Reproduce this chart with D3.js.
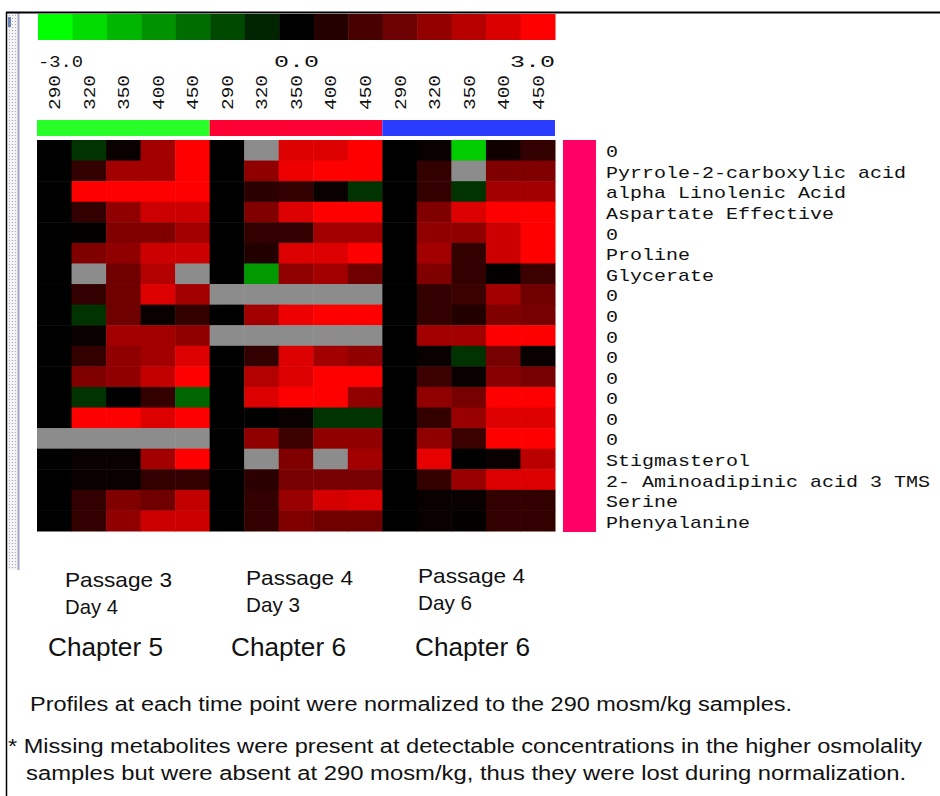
<!DOCTYPE html>
<html>
<head>
<meta charset="utf-8">
<title>Metabolite heat map</title>
<script src="https://d3js.org/d3.v7.min.js"></script>
<style>
  body { margin: 0; background: white; }
  .mono { font-family: "Liberation Mono", "DejaVu Sans Mono", monospace; fill: #111; }
  .sans { font-family: "Liberation Sans", Arial, sans-serif; fill: #111; }
</style>
</head>
<body>
<script>
// ---- data ----
var rowLabels = ["0", "Pyrrole-2-carboxylic acid", "alpha Linolenic Acid", "Aspartate Effective",
  "0", "Proline", "Glycerate", "0", "0", "0", "0", "0", "0", "0", "0",
  "Stigmasterol", "2- Aminoadipinic acid 3 TMS", "Serine", "Phenyalanine"];
var osmLabels = ["290", "320", "350", "400", "450"];
var groupNames = ["P3D4", "P4D3", "P4D6"];
var groupColors = ["#28ff28", "#ff0033", "#2a3cff"];
var scaleTicks = [-3, 0, 3];

// log ratio vs 290 mosm/kg, null = missing (grey)
var passage3day4 = [
  [0, -0.6, 0.1, 1.9, 3], [0, 0.6, 1.9, 1.9, 3], [0, 3, 3, 3, 3], [0, 0.6, 1.7, 2.4, 2.4],
  [0, 0.05, 1.5, 1.5, 1.9], [0, 1.5, 1.7, 2.4, 2.4], [0, null, 1.3, 2.1, null], [0, 0.6, 1.3, 2.6, 1.9],
  [0, -0.6, 1.3, 0.1, 0.6], [0, 0.1, 1.9, 1.9, 1.7], [0, 0.6, 1.7, 1.9, 2.6], [0, 1.5, 1.7, 2.3, 3],
  [0, -0.6, 0, 0.6, -1.2], [0, 3, 3, 2.6, 3], [null, null, null, null, null], [0, 0.1, 0.1, 1.9, 3],
  [0, 0.1, 0.1, 0.6, 0.6], [0, 0.6, 1.5, 1.3, 2.3], [0, 0.6, 1.7, 2.4, 2.4]
];
var passage4day3 = [
  [0, null, 2.6, 2.6, 3], [0, 1.7, 2.8, 3, 3], [0, 0.5, 0.6, 0.1, -0.6], [0, 1.5, 2.6, 3, 3],
  [0, 0.6, 0.6, 1.9, 1.9], [0, 0.4, 2.6, 2.6, 3], [0, -1.8, 1.7, 1.9, 1.3], [null, null, null, null, null],
  [0, 1.9, 2.8, 3, 3], [null, null, null, null, null], [0, 0.6, 2.6, 1.9, 1.7], [0, 2.1, 2.6, 3, 3],
  [0, 2.6, 3, 3, 1.7], [0, 0, 0.1, -0.6, -0.6], [0, 1.7, 0.7, 1.7, 1.7], [0, null, 1.5, null, 1.9],
  [0, 0.5, 1.4, 1.4, 1.4], [0, 0.6, 1.8, 2.5, 2.6], [0, 0.6, 1.5, 1.3, 1.3]
];
var passage4day6 = [
  [0, 0.1, -2.4, 0.2, 0.6], [0, 0.6, null, 1.5, 1.5], [0, 0.6, -0.6, 1.9, 1.9], [0, 1.5, 2.6, 3, 3],
  [0, 1.7, 1.7, 2.4, 3], [0, 1.9, 0.6, 2.4, 3], [0, 1.5, 0.6, 0.05, 0.7], [0, 0.6, 0.7, 1.9, 1.3],
  [0, 0.6, 0.4, 1.5, 1.4], [0, 1.9, 1.9, 3, 3], [0, 0.1, -0.6, 1.4, 0.1], [0, 0.7, 0.1, 1.6, 1.4],
  [0, 1.7, 1.4, 3, 3], [0, 0.6, 1.8, 2.6, 2.6], [0, 1.7, 0.7, 3, 3], [0, 2.7, 0, 0.1, 2.2],
  [0, 0.6, 1.8, 2.6, 2.6], [0, 0.1, 0.1, 0.6, 0.6], [0, 0.1, 0.05, 0.6, 0.6]
];
var groupValues = [passage3day4, passage4day3, passage4day6];

var captions = [["Passage 3", "Day 4", "Chapter 5"], ["Passage 4", "Day 3", "Chapter 6"], ["Passage 4", "Day 6", "Chapter 6"]];
var notes = ["Profiles at each time point were normalized to the 290 mosm/kg samples.",
  "* Missing metabolites were present at detectable concentrations in the higher osmolality",
  "samples but were absent at 290 mosm/kg, thus they were lost during normalization."];

// ---- layout ----
var width = 940, height = 796;
var svg = d3.select("body").append("svg").attr("width", width).attr("height", height);

// flatten to cells
var cells = [];
groupValues.forEach(function(g, gi) {
  g.forEach(function(row, ri) {
    row.forEach(function(v, ci) {
      cells.push({ col: gi * 5 + ci, row: ri, value: v });
    });
  });
});

var colIdx = d3.range(groupNames.length * osmLabels.length);
var x = d3.scaleBand().domain(colIdx).range([37, 555]);
var y = d3.scaleBand().domain(d3.range(rowLabels.length)).range([140, 531]);
var color = d3.scaleLinear().domain([-3, 0, 3]).range(["#00ff00", "#000000", "#ff0000"]).clamp(true);
var missing = "#8c8c8c";

// frame bits (screen-capture border)
var defs = svg.append("defs");
var pat = defs.append("pattern").attr("id", "dots").attr("width", 3).attr("height", 3)
  .attr("patternUnits", "userSpaceOnUse");
pat.append("rect").attr("width", 3).attr("height", 3).attr("fill", "#f4f4f4");
pat.append("rect").attr("width", 1).attr("height", 1).attr("fill", "#a8a8b8");
svg.append("rect").attr("x", 8).attr("y", 13).attr("width", 10).attr("height", 557).attr("fill", "url(#dots)");
svg.append("line").attr("x1", 18.5).attr("x2", 18.5).attr("y1", 13).attr("y2", 570)
  .attr("stroke", "#a3a6c4").attr("stroke-width", 2);
svg.append("rect").attr("x", 8).attr("y", 17).attr("width", 3).attr("height", 10).attr("fill", "#6d80b8");
svg.append("line").attr("x1", 6).attr("x2", width).attr("y1", 12.5).attr("y2", 12.5)
  .attr("stroke", "#000").attr("stroke-width", 2);
svg.append("line").attr("x1", 6.5).attr("x2", 6.5).attr("y1", 12).attr("y2", height)
  .attr("stroke", "#000").attr("stroke-width", 1.5);

// colour scale bar
var barX = d3.scaleLinear().domain([-3, 3]).range([38, 555]);
var steps = d3.range(15).map(function(i) { return -3 + i * 6 / 14; });
var stepW = (barX(3) - barX(-3)) / steps.length;
svg.append("g").selectAll("rect").data(steps).enter().append("rect")
  .attr("x", function(d, i) { return barX(-3) + i * stepW; })
  .attr("y", 14).attr("width", stepW + 0.5).attr("height", 26)
  .attr("fill", function(d) { return color(d); });

var fmt = d3.formatLocale({ decimal: ".", thousands: ",", grouping: [3], currency: ["", ""], minus: "-" }).format(".1f");
svg.append("g").selectAll("text").data(scaleTicks).enter().append("text")
  .attr("class", "mono").attr("font-size", 17)
  .attr("x", function(d) { return barX(d); }).attr("y", 67)
  .attr("text-anchor", function(d, i) { return i === 0 ? "start" : (i === scaleTicks.length - 1 ? "end" : "middle"); })
  .attr("textLength", 45).attr("lengthAdjust", "spacingAndGlyphs")
  .text(fmt);

// osmolality labels, rotated, reading upwards from y=110
svg.append("g").selectAll("text").data(colIdx).enter().append("text")
  .attr("class", "mono").attr("font-size", 17)
  .attr("transform", function(d) { return "translate(" + (x(d) + x.bandwidth() / 2) + ",110) rotate(-90)"; })
  .attr("dy", "0.35em").attr("text-anchor", "start")
  .attr("textLength", 35).attr("lengthAdjust", "spacingAndGlyphs")
  .text(function(d) { return osmLabels[d % osmLabels.length]; });

// group bar
var gx = d3.scaleBand().domain(groupNames).range([37, 555]);
svg.append("g").selectAll("rect").data(groupNames).enter().append("rect")
  .attr("x", function(d) { return gx(d); }).attr("y", 120)
  .attr("width", gx.bandwidth()).attr("height", 16)
  .attr("fill", function(d, i) { return groupColors[i]; });

// heat map cells
svg.append("g").selectAll("rect").data(cells).enter().append("rect")
  .attr("x", function(d) { return x(d.col); })
  .attr("y", function(d) { return y(d.row); })
  .attr("width", x.bandwidth() + 0.5).attr("height", y.bandwidth() + 0.5)
  .attr("fill", function(d) { return d.value === null ? missing : color(d.value); });

// cluster bar
svg.append("rect").attr("x", 563).attr("y", y.range()[0]).attr("width", 33)
  .attr("height", y.range()[1] - y.range()[0] + 1).attr("fill", "#ff0066");

// row labels (Courier-like width: 12px per char)
svg.append("g").selectAll("text").data(rowLabels).enter().append("text")
  .attr("class", "mono").attr("font-size", 17)
  .attr("x", 606).attr("y", function(d, i) { return y(i) + y.bandwidth() / 2 + 7; })
  .attr("textLength", function(d) { return d.length * 12; }).attr("lengthAdjust", "spacingAndGlyphs")
  .text(function(d) { return d; });

// captions under groups
var capX = [65, 246, 418], chX = [48, 231, 415], capShift = [0, -2, -4];
var capW = [[107, 53], [107, 54], [107, 54]];
captions.forEach(function(c, i) {
  svg.append("text").attr("class", "sans").attr("font-size", 21)
    .attr("x", capX[i]).attr("y", 587 + capShift[i])
    .attr("textLength", capW[i][0]).attr("lengthAdjust", "spacingAndGlyphs").text(c[0]);
  svg.append("text").attr("class", "sans").attr("font-size", 21)
    .attr("x", capX[i]).attr("y", 614 + capShift[i])
    .attr("textLength", capW[i][1]).attr("lengthAdjust", "spacingAndGlyphs").text(c[1]);
  svg.append("text").attr("class", "sans").attr("font-size", 26)
    .attr("x", chX[i]).attr("y", 656)
    .attr("textLength", 115).attr("lengthAdjust", "spacingAndGlyphs").text(c[2]);
});

// notes
var noteX = [30, 8, 26], noteY = [711, 753, 780], noteW = [762, 914, 880];
notes.forEach(function(t, i) {
  svg.append("text").attr("class", "sans").attr("font-size", 20)
    .attr("x", noteX[i]).attr("y", noteY[i])
    .attr("textLength", noteW[i]).attr("lengthAdjust", "spacingAndGlyphs").text(t);
});
</script>
</body>
</html>
